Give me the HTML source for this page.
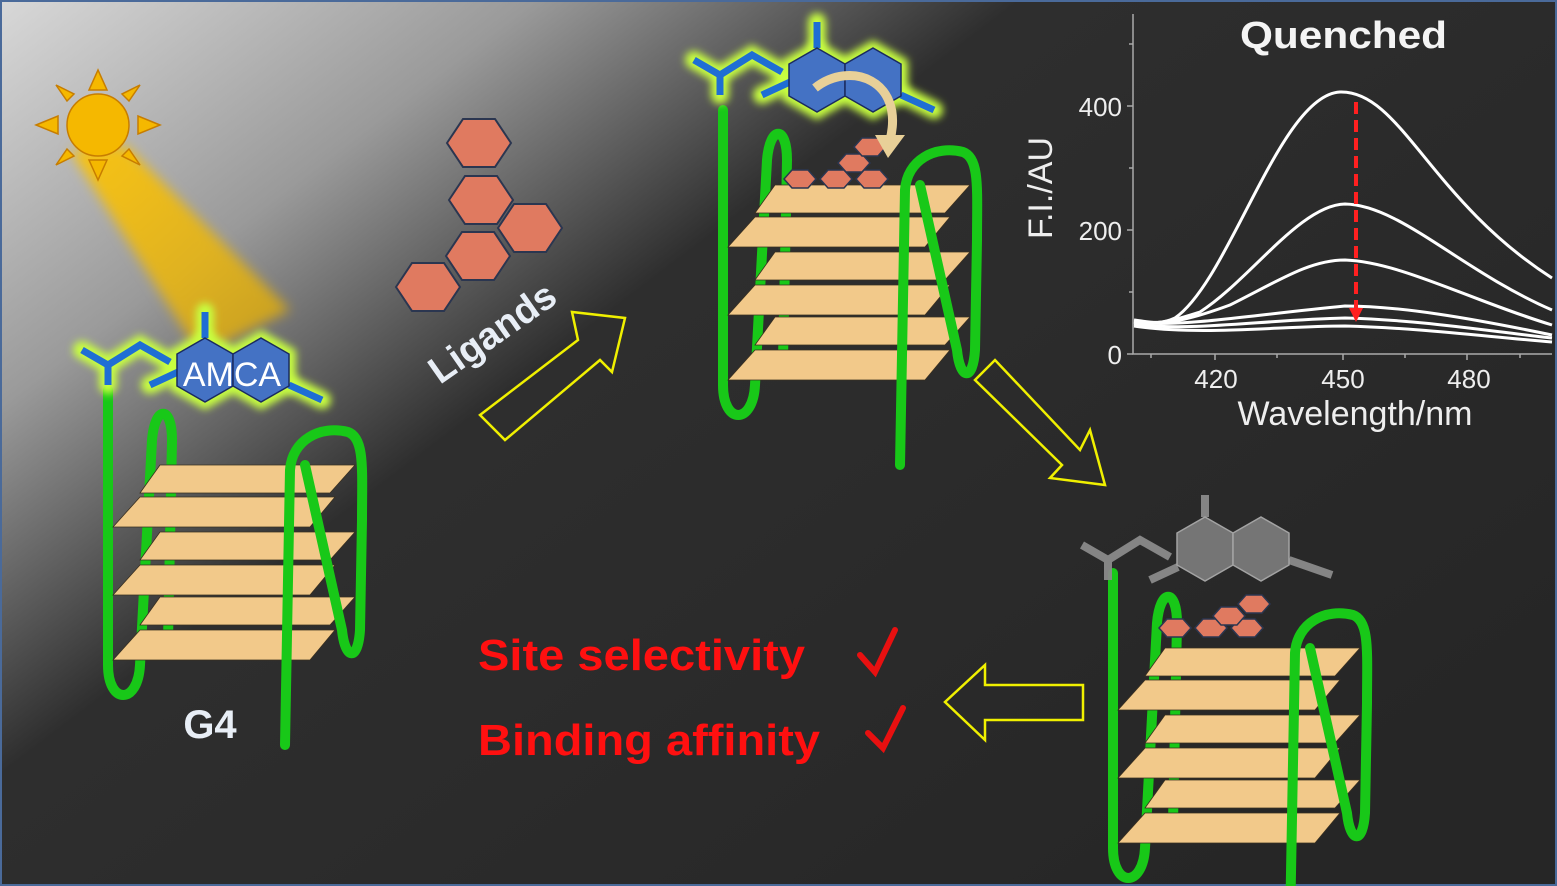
<!DOCTYPE html>
<html><head><meta charset="utf-8"><style>
html,body{margin:0;padding:0;background:#2a2a2a}
svg{display:block}
text{font-family:"Liberation Sans",Arial,sans-serif}
</style></head><body>
<svg width="1557" height="886" viewBox="0 0 1557 886" xmlns="http://www.w3.org/2000/svg">
<defs>
<linearGradient id="bg" x1="0" y1="0" x2="1" y2="0.75" gradientUnits="objectBoundingBox">
<stop offset="0" stop-color="#d8d8d8"/>
<stop offset="0.22" stop-color="#9a9a9a"/>
<stop offset="0.42" stop-color="#2e2e2e"/>
<stop offset="1" stop-color="#262626"/>
</linearGradient>
<linearGradient id="beam" x1="0" y1="0" x2="1" y2="1">
<stop offset="0" stop-color="#ffc400" stop-opacity="0.9"/>
<stop offset="1" stop-color="#e8b000" stop-opacity="0.7"/>
</linearGradient>
<filter id="blur"><feGaussianBlur stdDeviation="6"/></filter>
<filter id="glow" x="-20%" y="-40%" width="140%" height="180%"><feGaussianBlur stdDeviation="4"/></filter>
<g id="g4">
<path d="M108,390 L108,665 C108,705 138,705 140,665 L152,440 C155,405 172,405 172,440 L168,640" fill="none" stroke="#18c818" stroke-width="10" stroke-linecap="round"/>
<g fill="#f2c98a" stroke="#3a3020" stroke-width="0.8">
<polygon points="160,465 355,465 330,493 140,493"/>
<polygon points="140,497 335,497 310,527 113,527"/>
<polygon points="160,532 355,532 330,560 140,560"/>
<polygon points="140,565 335,565 310,595 113,595"/>
<polygon points="160,597 355,597 330,625 140,625"/>
<polygon points="140,630 335,630 310,660 113,660"/>
</g>
<path d="M285,745 L290,470 C292,440 320,425 348,432 C365,438 362,470 362,520 L360,630 C358,662 345,660 342,630 L305,465" fill="none" stroke="#18c818" stroke-width="10" stroke-linecap="round"/>
</g>
<g id="mol">
<path d="M82,350 L108,365 L140,345 L170,362 M108,365 L108,385 M205,338 L205,312 M150,385 L178,372 M292,385 L322,400" stroke="#c8ff40" stroke-width="18" fill="none" filter="url(#glow)" stroke-linecap="round"/>
<polygon points="205,338 233,354 261,338 289,354 289,386 261,402 233,386 205,402 177,386 177,354" fill="none" stroke="#c8ff40" stroke-width="14" filter="url(#glow)"/>
<path d="M82,350 L108,365 L140,345 L170,362 M108,365 L108,385 M205,338 L205,312 M150,385 L178,372 M289,385 L322,400" stroke="#1f6ed4" stroke-width="7" fill="none"/>
<polygon points="205,338 233,354 233,386 205,402 177,386 177,354" fill="#4472c4" stroke="#1a2a60" stroke-width="1.5"/>
<polygon points="261,338 289,354 289,386 261,402 233,386 233,354" fill="#4472c4" stroke="#1a2a60" stroke-width="1.5"/>
</g>
<g id="hexL"><polygon points="-16,0 -8,-9 8,-9 16,0 8,9 -8,9" fill="#e07a60" stroke="#2b3650" stroke-width="1.5"/></g>
<g id="hexB"><polygon points="-32,0 -16,-24 16,-24 32,0 16,24 -16,24" fill="#e07a60" stroke="#2b3650" stroke-width="2"/></g>
</defs>
<rect x="0" y="0" width="1557" height="886" fill="url(#bg)"/>
<rect x="1" y="1" width="1555" height="884" fill="none" stroke="#4a6a9a" stroke-width="2"/>

<!-- sun and beam -->
<polygon points="70,150 125,145 290,310 200,355" fill="url(#beam)" filter="url(#blur)"/>
<g fill="#f5b800" stroke="#c77d00" stroke-width="1.5">
<circle cx="98" cy="125" r="31"/>
<polygon points="98,70 89,90 107,90"/><polygon points="98,180 89,160 107,160"/>
<polygon points="36,125 58,116 58,134"/><polygon points="160,125 138,116 138,134"/>
<polygon points="56,85 74,94 67,101"/><polygon points="140,85 122,94 129,101"/>
<polygon points="56,165 74,156 67,149"/><polygon points="140,165 122,156 129,149"/>
</g>

<!-- G4 left -->
<use href="#g4"/>
<use href="#mol"/>
<text x="232" y="386" font-size="34" fill="#fff" text-anchor="middle">AMCA</text>
<text x="210" y="738" font-size="40" font-weight="bold" fill="#e8eef6" text-anchor="middle">G4</text>

<!-- ligands -->
<use href="#hexB" x="479" y="143"/>
<use href="#hexB" x="481" y="200"/>
<use href="#hexB" x="530" y="228"/>
<use href="#hexB" x="478" y="256"/>
<use href="#hexB" x="428" y="287"/>
<text x="0" y="0" font-size="38" font-weight="bold" fill="#e8eef6" transform="translate(440,385) rotate(-35)">Ligands</text>

<!-- arrows -->
<g fill="none" stroke="#f0f000" stroke-width="2.5">
<polygon points="480,415 578,340 572,312 625,318 612,372 600,360 505,440"/>
<polygon points="975,380 995,360 1080,450 1090,430 1105,485 1050,478 1062,465"/>
<polygon points="1083,685 985,685 985,665 945,702 985,740 985,720 1083,720"/>
</g>

<!-- G4 center -->
<g transform="translate(615,-280)"><use href="#g4"/></g>
<g transform="translate(612,-290)"><use href="#mol"/></g>
<use href="#hexL" x="800" y="179"/><use href="#hexL" x="836" y="179"/><use href="#hexL" x="872" y="179"/>
<use href="#hexL" x="854" y="163"/><use href="#hexL" x="870" y="147"/>
<path d="M815,88 C850,60 905,80 890,140" fill="none" stroke="#e8d098" stroke-width="9"/>
<polygon points="875,135 905,135 888,158" fill="#e8d098"/>

<!-- G4 bottom right -->
<g transform="translate(1005,183)"><use href="#g4"/></g>
<g transform="translate(1000,195)" opacity="0.95">
<path d="M82,350 L108,365 L140,345 L170,362 M108,365 L108,385 M205,322 L205,300 M150,385 L178,372 M289,365 L332,380" stroke="#8a8a8a" stroke-width="8" fill="none"/>
<polygon points="205,322 233,338 233,370 205,386 177,370 177,338" fill="#7a7a7a" stroke="#aaa" stroke-width="1.5"/>
<polygon points="261,322 289,338 289,370 261,386 233,370 233,338" fill="#7a7a7a" stroke="#aaa" stroke-width="1.5"/>
</g>
<use href="#hexL" x="1175" y="628"/><use href="#hexL" x="1211" y="628"/><use href="#hexL" x="1247" y="628"/>
<use href="#hexL" x="1229" y="616"/><use href="#hexL" x="1254" y="604"/>

<!-- text -->
<text x="478" y="670" font-size="44" font-weight="bold" fill="#ff1010" textLength="327" lengthAdjust="spacingAndGlyphs">Site selectivity</text>
<text x="478" y="755" font-size="44" font-weight="bold" fill="#ff1010" textLength="342" lengthAdjust="spacingAndGlyphs">Binding affinity</text>
<path d="M860,655 L875,672 L895,630" fill="none" stroke="#e81010" stroke-width="6" stroke-linecap="round"/>
<path d="M868,733 L883,748 L903,708" fill="none" stroke="#e81010" stroke-width="6" stroke-linecap="round"/>

<!-- chart -->
<g stroke="#aaa" stroke-width="1.5" fill="none">
<path d="M1133,14 L1133,354 L1552,354"/>
<path d="M1127,106 L1133,106 M1127,230 L1133,230 M1127,354 L1133,354 M1129,44 L1133,44 M1129,168 L1133,168 M1129,292 L1133,292"/>
<path d="M1215,354 L1215,360 M1343,354 L1343,360 M1467,354 L1467,360 M1151,354 L1151,358 M1277,354 L1277,358 M1405,354 L1405,358 M1520,354 L1520,358"/>
</g>
<text x="1122" y="116" font-size="26" fill="#eee" text-anchor="end">400</text>
<text x="1122" y="240" font-size="26" fill="#eee" text-anchor="end">200</text>
<text x="1122" y="364" font-size="26" fill="#eee" text-anchor="end">0</text>
<text x="1216" y="388" font-size="26" fill="#eee" text-anchor="middle">420</text>
<text x="1343" y="388" font-size="26" fill="#eee" text-anchor="middle">450</text>
<text x="1469" y="388" font-size="26" fill="#eee" text-anchor="middle">480</text>
<text x="1355" y="425" font-size="34" fill="#eee" text-anchor="middle">Wavelength/nm</text>
<text x="0" y="0" font-size="34" fill="#eee" text-anchor="middle" transform="translate(1052,188) rotate(-90)">F.I./AU</text>
<text x="1240" y="48" font-size="38" font-weight="bold" fill="#f4f4f4" textLength="207" lengthAdjust="spacingAndGlyphs">Quenched</text>
<g fill="none" stroke="#fff" stroke-width="3">
<path d="M1134,320 C1150,322 1160,325 1175,318 C1230,280 1280,95 1340,92 C1400,90 1430,200 1552,278"/>
<path d="M1134,322 C1160,325 1175,320 1200,312 C1250,280 1300,205 1345,204 C1400,205 1460,270 1552,310"/>
<path d="M1134,322 C1170,326 1200,316 1230,305 C1280,280 1310,260 1345,260 C1400,262 1470,300 1552,325"/>
<path d="M1134,322 C1180,328 1250,315 1345,306 C1400,306 1470,318 1552,335"/>
<path d="M1134,324 C1190,332 1260,320 1345,318 C1420,320 1480,330 1552,338"/>
<path d="M1134,326 C1200,336 1280,326 1345,326 C1420,328 1480,336 1552,342"/>
</g>
<path d="M1356,102 L1356,310" stroke="#ff2020" stroke-width="4" stroke-dasharray="12,6"/>
<polygon points="1349,308 1363,308 1356,322" fill="#ff2020"/>
</svg>
</body></html>
